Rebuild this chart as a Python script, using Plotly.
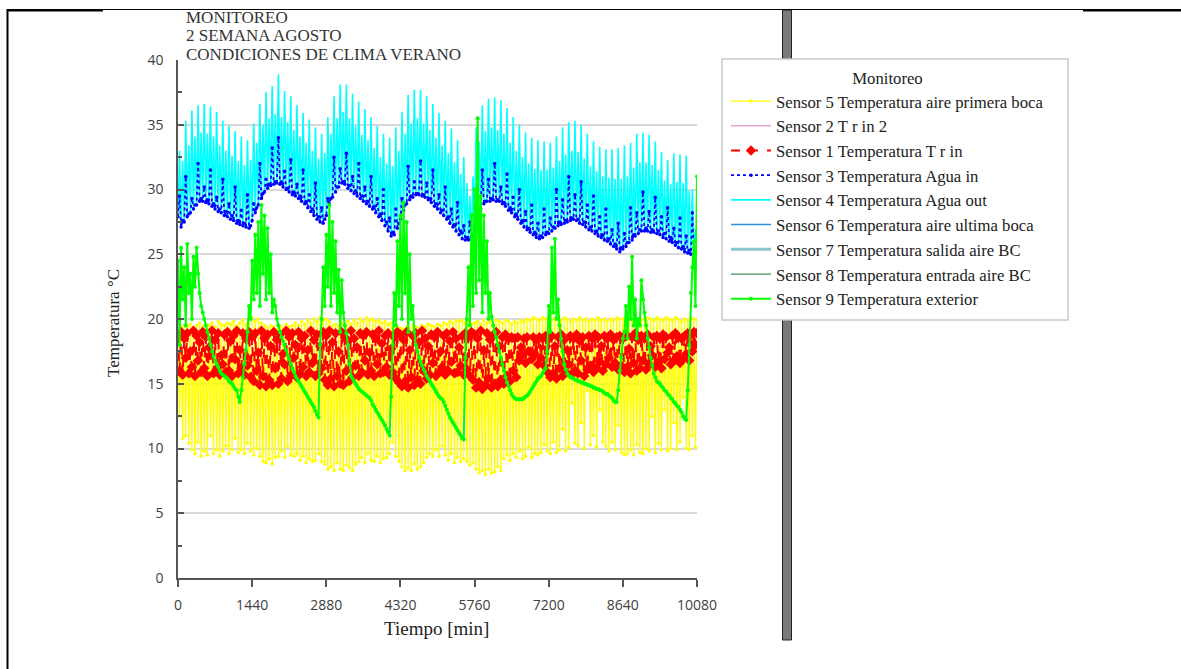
import plotly.graph_objects as go

# ---------------- data ----------------
x_tick_vals = [0, 1440, 2880, 4320, 5760, 7200, 8640, 10080]
y_tick_vals = [0, 5, 10, 15, 20, 25, 30, 35, 40]

# Sensor 5 (yellow) - readings at t = 0, 60, 120 ... min (upper swing)
sensor5_hi = [18.5, 19.3, 19.5, 19.4, 19.6, 19.3, 19.5, 19.7, 19.4, 19.6, 19.5, 19.7, 19.4, 19.8, 19.6, 19.5, 19.7, 19.6, 19.8, 19.5, 19.7, 19.9, 19.6, 20.0,
              20.1, 19.8, 20.0, 19.7, 19.5, 19.3, 19.5, 19.4, 19.2, 19.5, 19.3, 19.6, 19.4, 19.5, 19.7, 19.5, 19.8, 19.6, 19.9, 19.7, 20.0, 19.8, 20.1, 19.9,
              20.0, 19.8, 19.5, 19.6, 19.4, 19.7, 19.5, 19.8, 19.6, 19.9, 19.7, 20.0, 19.8, 20.1, 19.9, 20.0, 19.8, 19.9, 19.7, 19.8, 19.6, 19.7, 19.5, 19.4,
              19.3, 19.2, 19.4, 19.3, 19.5, 19.4, 19.3, 19.5, 19.4, 19.6, 19.5, 19.4, 19.6, 19.5, 19.7, 19.6, 19.8, 19.7, 19.9, 19.8, 19.9, 19.7, 19.8, 19.6,
              19.7, 19.8, 19.6, 19.9, 19.7, 19.8, 19.6, 19.9, 19.8, 19.7, 19.9, 19.8, 19.6, 19.8, 19.7, 19.9, 19.8, 20.0, 19.9, 20.1, 20.0, 19.9, 20.1, 20.0,
              20.0, 19.9, 20.1, 20.0, 19.9, 20.1, 20.0, 19.8, 20.0, 19.9, 20.1, 19.9, 20.0, 19.8, 20.0, 19.9, 20.1, 19.9, 20.0, 19.8, 20.0, 19.9, 20.1, 20.0,
              20.0, 19.9, 20.1, 19.9, 20.0, 19.8, 20.0, 19.9, 20.1, 20.0, 19.9, 20.1, 20.0, 19.9, 20.1, 20.0, 19.9, 20.1, 20.0, 19.8, 20.0, 19.9, 20.1, 20.0, 19.9]
# Sensor 5 - readings at t = 30, 90, 150 ... min (lower swing)
sensor5_lo = [12.5, 10.8, 11.0, 10.4,
              9.9, 9.6, 10.5, 9.4, 9.8, 9.5, 11.0, 9.6, 9.9, 9.4,
              9.8, 10.2, 9.6, 9.9, 10.8, 9.7, 9.9, 9.6, 10.4, 9.8,
              9.5, 10.0, 9.4, 9.0,
              8.9, 9.2, 8.8, 9.3,
              9.4, 9.8, 9.3, 10.2, 9.5, 9.4, 9.6,
              9.1, 9.4, 8.9, 9.2, 9.0,
              9.1, 9.6, 9.0, 8.8,
              8.4, 8.6, 8.3, 8.9, 8.4, 8.3, 8.7, 8.5, 8.3, 8.8,
              9.0, 9.3, 8.9, 9.6, 9.1, 9.0, 9.4, 8.9, 9.2,
              9.3, 9.6, 10.5, 9.4, 9.0, 8.6,
              8.3, 8.5, 8.3, 8.8, 8.4, 8.6, 8.9,
              9.3, 9.6, 9.4, 9.9, 9.4, 10.2, 9.5, 9.1, 9.6, 8.9, 9.3, 9.0, 9.2,
              9.0, 8.7, 8.9, 8.4,
              8.1, 8.3, 8.0, 8.4, 8.1, 8.2, 8.6, 8.3,
              9.2, 9.5, 9.1, 9.6, 9.3, 9.8, 9.2, 9.4, 10.1, 9.3, 9.6, 9.5,
              9.7, 10.3, 9.8, 9.6, 10.5, 9.7, 9.9, 11.5, 9.8,
              10.1, 13.5, 10.4, 10.2, 12.0, 10.0, 14.5, 10.3, 11.0, 10.1, 13.0, 10.5, 10.2,
              9.8, 10.5, 9.9, 11.8, 9.7, 9.5,
              9.6, 9.9, 9.5, 10.3, 9.7, 9.6, 10.0, 9.8, 12.5, 9.7, 10.4, 9.9, 13.0, 9.8,
              10.0, 12.0, 9.9, 10.5, 14.0, 10.0, 9.9, 11.0, 10.1]

# Sensor 1 (red) - t = 0, 60, ... and t = 30, 90, ...
sensor1_a = [18.8, 19.0, 18.5, 18.9, 17.5, 19.1, 18.7, 18.2, 19.0, 18.6, 17.8, 19.1, 18.4, 18.9, 17.2, 18.8, 19.0, 18.3, 18.7, 19.1, 17.6, 18.9, 18.5, 19.0,
             18.6, 18.9, 17.4, 19.1, 18.5, 18.8, 17.9, 19.0, 18.4, 18.8, 17.3, 19.1, 18.6, 18.9, 18.0, 19.0, 18.5, 18.7, 17.6, 19.1, 18.4, 18.8, 17.9, 19.0,
             18.7, 19.1, 18.2, 18.9, 17.5, 19.0, 18.6, 18.3, 19.1, 18.5, 17.8, 18.9, 18.7, 19.0, 17.4, 18.8, 18.5, 19.1, 18.1, 18.7, 18.9, 17.7, 18.6, 19.0,
             18.8, 18.4, 19.0, 17.6, 18.7, 18.9, 18.2, 19.1, 18.5, 17.9, 18.8, 18.6, 19.0, 17.5, 18.7, 18.9, 18.3, 19.0, 18.5, 17.8, 18.7, 18.9, 18.6, 19.0,
             18.8, 18.5, 19.1, 17.6, 18.9, 18.4, 18.7, 19.0, 17.9, 18.6, 18.8, 18.5, 18.6, 18.5, 18.6, 17.8, 18.5, 18.6, 17.5, 18.6, 18.4, 18.6, 18.5, 18.7,
             18.5, 18.7, 17.9, 18.6, 18.8, 18.4, 17.6, 18.7, 18.5, 18.8, 18.3, 18.6, 17.8, 18.7, 18.5, 18.8, 18.6, 17.9, 18.7, 18.5, 18.8, 18.4, 18.6, 18.7,
             18.5, 18.8, 17.7, 18.6, 18.9, 18.4, 18.7, 18.5, 18.8, 17.9, 18.6, 18.7, 18.5, 18.8, 18.6, 17.8, 18.7, 18.9, 18.6, 18.5, 18.7, 18.9, 18.8, 19.0, 18.9]
sensor1_b = [16.0, 15.7, 17.0, 15.8, 16.3, 15.6, 16.8, 15.9, 16.2, 15.6, 17.2, 15.8, 16.1, 15.7, 16.5, 15.9, 16.0, 15.6, 16.9, 15.8, 16.2, 15.7, 16.4, 15.5,
             15.2, 16.0, 14.9, 15.6, 14.8, 15.3, 14.9, 16.2, 15.0, 15.4, 16.5, 15.2, 15.6, 17.0, 15.5, 15.8, 16.3, 15.6, 15.9, 16.6, 15.6, 15.8, 16.2, 15.3,
             14.9, 15.4, 14.8, 15.6, 15.0, 14.9, 16.0, 15.2, 15.5, 16.4, 15.6, 15.9, 16.8, 15.7, 16.0, 15.6, 16.5, 15.8, 15.9, 16.3, 15.7, 15.9, 15.4, 15.1,
             14.8, 15.2, 14.7, 15.5, 14.9, 15.3, 15.0, 16.0, 15.4, 15.7, 16.6, 15.6, 15.9, 16.3, 15.7, 16.0, 16.7, 15.8, 15.9, 16.4, 15.7, 16.1, 15.6, 15.3,
             14.7, 15.1, 14.6, 14.9, 15.4, 14.7, 15.0, 14.8, 15.3, 15.0, 15.6, 15.2, 16.0, 15.5, 16.8, 17.2, 16.6, 17.5, 16.9, 17.3, 16.5, 17.0, 16.4, 15.9,
             15.5, 15.8, 15.4, 16.2, 15.6, 15.9, 16.5, 15.7, 16.0, 15.8, 16.8, 15.6, 16.1, 16.4, 15.9, 16.2, 16.7, 16.0, 16.5, 17.0, 16.3, 16.6, 16.1, 16.4,
             15.9, 16.3, 15.8, 16.6, 16.0, 16.2, 16.8, 16.1, 16.5, 17.2, 16.3, 16.7, 16.2, 16.9, 17.4, 16.5, 16.8, 17.1, 16.6, 16.9, 17.3, 16.8, 17.5, 18.0]

# Sensor 3 (blue) - base readings at t = 0, 60, ... (also the low end of sensor 4)
sensor3_base = [27.9, 27.1, 27.5, 27.9, 28.2, 28.5, 28.8, 29.1, 29.1, 29.0, 28.9, 28.7, 28.5, 28.3, 28.2, 28.0, 27.9, 27.7, 27.6, 27.4, 27.3, 27.2, 27.1, 27.0,
                27.6, 28.2, 28.8, 29.3, 29.8, 30.1, 30.3, 30.4, 30.5, 30.4, 30.2, 30.0, 29.8, 29.6, 29.5, 29.3, 29.1, 28.9, 28.6, 28.3, 28.0, 27.7, 27.5, 27.4,
                28.0, 28.9, 29.4, 29.8, 30.2, 30.5, 30.4, 30.1, 29.9, 29.7, 29.5, 29.3, 29.1, 28.9, 28.7, 28.5, 28.2, 27.9, 27.6, 27.2, 26.8, 26.4, 26.5, 27.0,
                27.7, 28.4, 28.9, 29.2, 29.4, 29.6, 29.6, 29.5, 29.4, 29.2, 29.0, 28.7, 28.5, 28.2, 28.0, 27.7, 27.4, 27.1, 26.8, 26.5, 26.2, 26.1, 26.1, 26.2,
                27.2, 28.0, 28.5, 28.9, 29.1, 29.1, 29.2, 29.1, 29.1, 28.9, 28.7, 28.4, 28.2, 27.9, 27.7, 27.4, 27.1, 26.9, 26.7, 26.5, 26.3, 26.2, 26.3, 26.5,
                26.6, 26.8, 27.0, 27.2, 27.3, 27.4, 27.5, 27.6, 27.7, 27.6, 27.4, 27.3, 27.1, 26.9, 26.8, 26.6, 26.4, 26.3, 26.1, 26.0, 25.8, 25.6, 25.4, 25.2,
                25.4, 25.6, 25.9, 26.1, 26.4, 26.6, 26.8, 26.8, 26.8, 26.7, 26.7, 26.6, 26.5, 26.3, 26.2, 26.0, 25.9, 25.7, 25.5, 25.4, 25.2, 25.1, 25.0, 24.9, 24.8]
# Sensor 3 - readings at t = 30, 90, ...
sensor3_peak = [29.5, 27.6, 31.0, 28.1, 29.3, 28.8, 32.0, 29.3, 30.2, 29.2, 31.5, 28.9, 29.4, 28.5, 30.8, 28.3, 28.9, 28.0, 30.2, 27.6, 28.4, 27.4, 29.6, 27.2,
                28.9, 28.6, 32.0, 29.7, 30.8, 30.4, 33.2, 30.6, 34.0, 30.6, 31.4, 30.1, 32.3, 29.8, 30.4, 29.5, 31.5, 29.1, 29.6, 28.5, 30.5, 27.9, 28.6, 27.7,
                29.3, 29.3, 32.5, 30.2, 31.6, 30.6, 32.8, 30.3, 31.0, 29.9, 32.0, 29.5, 30.2, 29.1, 31.0, 28.7, 29.3, 28.1, 30.0, 27.5, 27.8, 26.7, 28.5, 27.4,
                29.3, 28.8, 31.8, 29.5, 30.6, 29.7, 32.2, 29.6, 30.5, 29.3, 31.5, 28.9, 29.6, 28.4, 30.2, 27.9, 28.5, 27.3, 29.0, 26.8, 27.2, 26.3, 27.5, 26.5,
                28.6, 28.4, 31.5, 29.1, 30.8, 29.3, 32.0, 29.2, 30.2, 29.0, 31.2, 28.6, 29.4, 28.1, 30.0, 27.6, 28.3, 27.0, 28.8, 26.7, 27.4, 26.4, 28.5, 26.7,
                27.8, 27.1, 30.0, 27.5, 29.2, 27.6, 31.0, 27.8, 29.6, 27.7, 30.6, 27.5, 28.8, 27.1, 29.5, 26.8, 27.9, 26.5, 28.5, 26.2, 26.9, 25.8, 27.4, 25.5,
                26.6, 25.9, 28.6, 26.5, 28.2, 26.9, 29.8, 27.0, 28.3, 26.9, 29.4, 26.8, 27.9, 26.6, 28.6, 26.3, 27.0, 25.9, 27.8, 25.6, 26.4, 25.3, 28.2, 25.0]

# Sensor 4 (cyan) - readings at t = 30, 90, ...
sensor4_peak = [33.0, 32.2, 35.3, 33.4, 36.1, 34.1, 36.5, 34.4, 36.6, 34.3, 36.4, 34.1, 36.0, 33.4, 35.3, 33.0, 34.9, 32.6, 34.5, 32.2, 34.1, 31.9, 33.8, 32.3,
                35.1, 33.6, 36.6, 35.0, 37.5, 35.5, 38.0, 35.8, 38.9, 35.6, 37.6, 35.2, 37.2, 34.6, 36.5, 34.1, 35.9, 33.6, 35.4, 33.0, 34.8, 32.4, 34.3, 32.8,
                35.6, 34.3, 37.2, 35.5, 38.1, 36.0, 38.1, 35.5, 37.4, 34.9, 36.8, 34.2, 36.2, 33.8, 35.6, 33.2, 34.9, 32.5, 34.3, 32.0, 34.0, 31.8, 34.8, 33.0,
                36.0, 34.3, 37.3, 35.1, 37.7, 35.5, 37.7, 35.1, 37.2, 34.6, 36.6, 34.0, 35.9, 33.4, 35.3, 32.8, 34.7, 32.1, 33.8, 31.2, 32.5, 30.5, 29.5, 31.0,
                34.8, 33.7, 36.5, 34.5, 37.0, 34.8, 37.1, 34.6, 36.9, 34.3, 36.3, 33.6, 35.6, 33.0, 35.0, 32.5, 34.4, 32.0, 34.0, 31.6, 33.8, 31.5, 33.7, 31.5,
                33.6, 31.7, 34.1, 32.2, 34.8, 32.7, 35.2, 33.0, 35.3, 32.9, 35.0, 32.4, 34.3, 31.8, 33.7, 31.4, 33.3, 31.0, 33.1, 30.9, 33.1, 30.8, 33.2, 30.8,
                33.4, 31.0, 33.6, 31.7, 34.3, 32.1, 34.4, 32.1, 34.2, 31.9, 33.7, 31.5, 32.9, 30.7, 32.3, 30.4, 32.8, 30.6, 32.7, 30.5, 32.6, 29.9, 30.0, 27.0]

# Sensor 9 (green, exterior) - t = 0, 60, ... and t = 30, 90, ...
sensor9_a = [24.5, 25.5, 24.0, 25.8, 23.5, 24.8, 25.5, 22.0, 20.5, 19.5, 18.5, 17.5, 16.8, 16.3, 15.8, 15.6, 15.4, 15.1, 14.8, 14.5, 13.6, 15.5, 17.6, 21.0,
             24.5, 26.5, 27.5, 28.8, 28.0, 27.0, 25.0, 21.5, 20.0, 19.0, 18.3, 17.6, 16.9, 16.2, 15.6, 15.2, 14.8, 14.4, 14.0, 13.6, 13.2, 12.6, 18.0, 24.0,
             26.5, 28.8, 27.5, 26.0, 23.8, 23.0, 19.5, 18.0, 15.6, 15.2, 14.8, 14.5, 14.3, 14.1, 13.9, 13.4, 13.0, 12.6, 12.2, 11.8, 11.3, 14.0, 22.0, 26.0,
             28.0, 29.0, 27.5, 25.0, 21.0, 18.0, 17.0, 16.4, 15.9, 15.4, 15.0, 14.6, 14.2, 13.9, 13.6, 13.0, 12.4, 12.0, 11.6, 11.2, 10.8, 17.0, 24.0, 28.0,
             30.0, 35.5, 29.5, 28.0, 26.0, 22.0, 19.5, 18.6, 17.5, 16.5, 15.5, 14.8, 14.2, 13.9, 13.8, 13.8, 13.9, 14.1, 14.4, 14.8, 15.2, 15.5, 15.8, 16.2,
             21.0, 25.5, 26.2, 21.5, 18.5, 16.5, 15.8, 15.5, 15.4, 15.3, 15.2, 15.1, 15.0, 14.9, 14.8, 14.7, 14.6, 14.5, 14.3, 14.2, 14.0, 13.7, 13.6, 16.0,
             18.5, 21.0, 22.5, 24.8, 21.5, 20.0, 23.0, 20.5, 18.5, 17.0, 15.8, 15.2, 15.0, 14.7, 14.4, 14.1, 13.8, 13.5, 13.2, 12.8, 12.3, 14.5, 22.0, 26.0, 31.0]
sensor9_b = [18.0, 21.5, 19.5, 22.0, 20.0, 22.5, 23.5, 21.0, 20.0, 19.0, 18.0, 17.1, 16.5, 16.0, 15.7, 15.5, 15.2, 15.0, 14.6, 14.0, 14.5, 16.5, 19.0, 20.0,
             21.5, 22.0, 21.0, 23.5, 21.5, 22.0, 20.5, 21.0, 19.5, 18.6, 18.0, 17.2, 16.5, 15.9, 15.4, 15.0, 14.6, 14.2, 13.8, 13.4, 12.9, 12.4, 20.0, 21.0,
             22.5, 21.0, 22.0, 20.5, 19.0, 20.5, 18.9, 16.5, 15.4, 15.0, 14.6, 14.4, 14.2, 14.0, 13.7, 13.2, 12.8, 12.4, 12.0, 11.5, 11.0, 18.0, 19.5, 21.0,
             20.0, 22.0, 19.0, 20.0, 19.0, 17.5, 16.7, 16.1, 15.6, 15.2, 14.8, 14.4, 14.0, 13.8, 13.3, 12.7, 12.2, 11.8, 11.4, 11.0, 10.7, 20.0, 19.5, 21.0,
             22.0, 23.0, 20.5, 22.0, 20.0, 20.2, 19.0, 18.0, 17.0, 16.0, 15.1, 14.5, 14.0, 13.8, 13.8, 13.8, 14.0, 14.2, 14.6, 15.0, 15.4, 15.6, 16.0, 17.5,
             19.0, 20.5, 20.0, 19.5, 17.5, 16.1, 15.6, 15.5, 15.3, 15.2, 15.1, 15.0, 14.9, 14.8, 14.7, 14.6, 14.5, 14.4, 14.2, 14.1, 13.9, 13.6, 14.5, 17.0,
             19.0, 18.5, 20.0, 19.5, 18.5, 19.5, 21.5, 19.5, 17.8, 16.4, 15.5, 15.1, 14.8, 14.5, 14.2, 13.9, 13.6, 13.3, 13.0, 12.5, 12.2, 18.0, 24.0, 21.0]

legend_names = {
    "s5": "Sensor 5 Temperatura aire primera boca",
    "s2": "Sensor 2 T r in 2",
    "s1": "Sensor 1 Temperatura T r in",
    "s3": "Sensor 3 Temperatura Agua in",
    "s4": "Sensor 4 Temperatura Agua out",
    "s6": "Sensor 6 Temperatura aire ultima boca",
    "s7": "Sensor 7 Temperatura salida aire BC",
    "s8": "Sensor 8 Temperatura entrada aire BC",
    "s9": "Sensor 9 Temperatura exterior",
}


def merge(on_hour, on_half):
    """Combine readings taken on the hour and on the half hour into one time series."""
    pts = [(60 * i, v) for i, v in enumerate(on_hour)] + [(60 * i + 30, v) for i, v in enumerate(on_half)]
    pts.sort(key=lambda p: p[0])
    return [p[0] for p in pts], [p[1] for p in pts]


# ---------------- layout helpers (pixel -> paper) ----------------
W, H = 1181, 669
L, R, T, B = 178, 697, 60, 578


def px(xp):
    return (xp - L) / (R - L)


def py(yp):
    return (B - yp) / (B - T)


SERIF = "Liberation Serif, Times New Roman, serif"

fig = go.Figure()

x5, y5 = merge(sensor5_hi, sensor5_lo)
fig.add_trace(go.Scatter(x=x5, y=y5, name=legend_names["s5"], mode="lines+markers",
                         line=dict(color="#ffff00", width=1.3), marker=dict(color="#ffff00", size=3.5),
                         legendrank=1, legendgroup="g1"))
fig.add_trace(go.Scatter(x=[None], y=[None], name=legend_names["s2"], mode="lines",
                         line=dict(color="#d9a6d6", width=1.5), legendrank=2, legendgroup="g2"))
x1, y1 = merge(sensor1_a, sensor1_b)
fig.add_trace(go.Scatter(x=x1, y=y1, name=legend_names["s1"], mode="lines+markers",
                         line=dict(color="#ff0000", width=2, dash="dash"),
                         marker=dict(color="#ff0000", size=8, symbol="diamond"),
                         legendrank=3, legendgroup="g3"))
x4, y4 = merge(sensor3_base, sensor4_peak)
fig.add_trace(go.Scatter(x=x4, y=y4, name=legend_names["s4"], mode="lines",
                         line=dict(color="#00ffff", width=1.6), legendrank=5, legendgroup="g5"))
x3, y3 = merge(sensor3_base, sensor3_peak)
fig.add_trace(go.Scatter(x=x3, y=y3, name=legend_names["s3"], mode="lines+markers",
                         line=dict(color="#0000ff", width=1.8, dash="dot"),
                         marker=dict(color="#0000ff", size=3.5),
                         legendrank=4, legendgroup="g4"))
fig.add_trace(go.Scatter(x=[None], y=[None], name=legend_names["s6"], mode="lines",
                         line=dict(color="#2f8fdc", width=1.5), legendrank=6, legendgroup="g6"))
fig.add_trace(go.Scatter(x=[None], y=[None], name=legend_names["s7"], mode="lines",
                         line=dict(color="#8cc6c9", width=3), legendrank=7, legendgroup="g7"))
fig.add_trace(go.Scatter(x=[None], y=[None], name=legend_names["s8"], mode="lines",
                         line=dict(color="#4d8f55", width=1.2), legendrank=8, legendgroup="g8"))
x9, y9 = merge(sensor9_a, sensor9_b)
fig.add_trace(go.Scatter(x=x9, y=y9, name=legend_names["s9"], mode="lines+markers",
                         line=dict(color="#00ff00", width=2),
                         marker=dict(color="#00ff00", size=4),
                         legendrank=9, legendgroup="g9"))

shapes = [
    # gray separator bar (hidden behind the legend box)
    dict(type="rect", xref="paper", yref="paper", x0=px(782.5), x1=px(791.5), y0=py(10), y1=py(59),
         line=dict(color="#222222", width=1), fillcolor="#7a7a7a"),
    dict(type="rect", xref="paper", yref="paper", x0=px(782.5), x1=px(791.5), y0=py(320), y1=py(640),
         line=dict(color="#222222", width=1), fillcolor="#7a7a7a"),
    # legend frame
    dict(type="rect", xref="paper", yref="paper", x0=px(722), x1=px(1068), y0=py(59), y1=py(320),
         line=dict(color="#c9c9c9", width=1.5), fillcolor="white"),
    # outer frame lines
    dict(type="line", xref="paper", yref="paper", x0=px(7), x1=px(1181), y0=py(9.5), y1=py(9.5),
         line=dict(color="#000000", width=1.2)),
    dict(type="line", xref="paper", yref="paper", x0=px(7), x1=px(103), y0=py(10.3), y1=py(10.3),
         line=dict(color="#000000", width=2.2)),
    dict(type="line", xref="paper", yref="paper", x0=px(1083), x1=px(1181), y0=py(10.3), y1=py(10.3),
         line=dict(color="#000000", width=2.2)),
    dict(type="line", xref="paper", yref="paper", x0=px(7.5), x1=px(7.5), y0=py(9), y1=py(669),
         line=dict(color="#000000", width=2)),
]

title_lines = ["MONITOREO", "2 SEMANA AGOSTO", "CONDICIONES DE CLIMA VERANO"]
title_y = [17, 35.5, 54]
annotations = []
for txt, yy in zip(title_lines, title_y):
    annotations.append(dict(text=txt, xref="paper", yref="paper", x=px(184), y=py(yy),
                            xanchor="left", yanchor="middle", showarrow=False,
                            font=dict(family=SERIF, size=17, color="#333333")))
annotations.append(dict(text="Tiempo [min]", xref="paper", yref="paper", x=px(436), y=py(628),
                        xanchor="center", yanchor="middle", showarrow=False,
                        font=dict(family=SERIF, size=19, color="#222222")))
annotations.append(dict(text="Temperatura °C", xref="paper", yref="paper", x=px(113), y=py(323),
                        xanchor="center", yanchor="middle", showarrow=False, textangle=-90,
                        font=dict(family=SERIF, size=17, color="#222222")))

fig.update_layout(
    width=W, height=H,
    margin=dict(l=L, r=W - R, t=T, b=H - B, pad=0),
    paper_bgcolor="white", plot_bgcolor="white",
    showlegend=True,
    legend=dict(x=px(726), y=py(62), xanchor="left", yanchor="top",
                bgcolor="rgba(0,0,0,0)", borderwidth=0,
                font=dict(family=SERIF, size=16.7, color="#222222"),
                title=dict(text="Monitoreo", side="top center", font=dict(family=SERIF, size=16.7, color="#222222")),
                traceorder="grouped", tracegroupgap=0, itemwidth=40),
    shapes=shapes,
    annotations=annotations,
    xaxis=dict(range=[0, 10080], tickvals=x_tick_vals, ticktext=[str(v) for v in x_tick_vals],
               showgrid=False, zeroline=False, showline=True, linecolor="#555555", linewidth=1.5,
               ticks="outside", ticklen=7, tickwidth=1.5, tickcolor="#555555",
               tickfont=dict(family="Open Sans, DejaVu Sans, sans-serif", size=14, color="#404040"),
               ticklabelstandoff=6),
    yaxis=dict(range=[0, 40], tickvals=y_tick_vals, ticktext=[str(v) for v in y_tick_vals],
               showgrid=True, gridcolor="#d9d9d9", gridwidth=1.5, zeroline=False,
               showline=True, linecolor="#555555", linewidth=1.5,
               ticks="inside", ticklen=6, tickwidth=1.5, tickcolor="#555555",
               minor=dict(dtick=2.5, tick0=0, ticks="inside", ticklen=4, tickcolor="#555555", showgrid=False),
               tickfont=dict(family="Open Sans, DejaVu Sans, sans-serif", size=14, color="#404040"),
               ticklabelstandoff=10),
)

fig.write_html("out.html", config={"displayModeBar": False})
